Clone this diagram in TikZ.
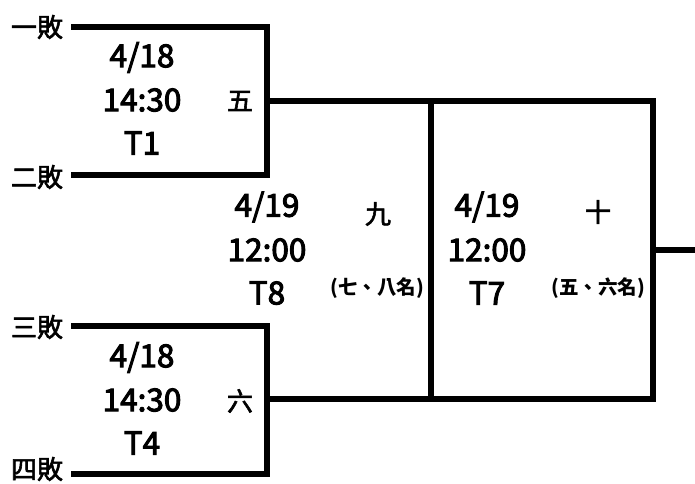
\documentclass[tikz,border=0pt]{standalone}
\usepackage{fontspec}
\setmainfont{Noto Sans CJK TC}
\newfontfamily\medfont{Noto Sans CJK TC}[FakeBold=3.2]
\newfontfamily\lblfont{Noto Sans CJK TC}[FakeBold=2.2]
\begin{document}
\begin{tikzpicture}[x=1pt,y=-1pt,
  bline/.style={line width=5.5pt,line cap=rect},
  big/.style={font=\fontsize{31.5}{32}\medfont,inner sep=0pt,anchor=center},
  lbl/.style={font=\fontsize{26}{28}\lblfont,inner sep=0pt,anchor=center},
  small/.style={font=\fontsize{19.5}{20}\selectfont\bfseries,inner sep=0pt,anchor=center}]
\useasboundingbox (0,0) rectangle (695,483);
% coordinates
\coordinate (a1) at (74,27);
\coordinate (a2) at (267,27);
\coordinate (a3) at (267,175);
\coordinate (a4) at (74,175);
\coordinate (am) at (267,101);
\coordinate (b1) at (74,326);
\coordinate (b2) at (267,326);
\coordinate (b3) at (267,474);
\coordinate (b4) at (74,474);
\coordinate (bm) at (267,399);
\coordinate (c1) at (431,101);
\coordinate (c2) at (431,399);
\coordinate (d1) at (653,101);
\coordinate (d2) at (653,399);
\coordinate (dm) at (653,250);
\coordinate (out) at (695,250);
\draw[bline] (a1) -- (a2) -- (a3) -- (a4);
\draw[bline] (b1) -- (b2) -- (b3) -- (b4);
\draw[bline] (am) -- (c1) -- (d1) -- (d2) -- (c2) -- (bm);
\draw[bline] (c1) -- (c2);
\draw[line width=5.5pt] (dm) -- (out);
% labels
\node[lbl] (l1) at (37,27) {一敗};
\node[lbl] (l2) at (37,177) {二敗};
\node[lbl] (l3) at (37,327) {三敗};
\node[lbl] (l4) at (37,469) {四敗};
% game 5
\node[big] (g5d) at (142,57.5) {4/18};
\node[big] (g5t) at (142,100) {14:30};
\node[big] (g5c) at (142,143) {T1};
\node[lbl] (g5) at (240,101) {五};
% game 6
\node[big] (g6d) at (142,357.5) {4/18};
\node[big] (g6t) at (142,400) {14:30};
\node[big] (g6c) at (142,443) {T4};
\node[lbl] (g6) at (240,401) {六};
% game 9
\node[big] (g9d) at (267,207) {4/19};
\node[big] (g9t) at (267,250) {12:00};
\node[big] (g9c) at (267,293) {T8};
\node[lbl] (g9) at (378,214) {九};
\node[small] (g9r) at (377,288) {(七、八名)};
% game 10
\node[big] (g10d) at (487,207) {4/19};
\node[big] (g10t) at (487,250) {12:00};
\node[big] (g10c) at (487,293) {T7};
\node[lbl] (g10) at (598,212) {十};
\node[small] (g10r) at (598,288) {(五、六名)};
\end{tikzpicture}
\end{document}
